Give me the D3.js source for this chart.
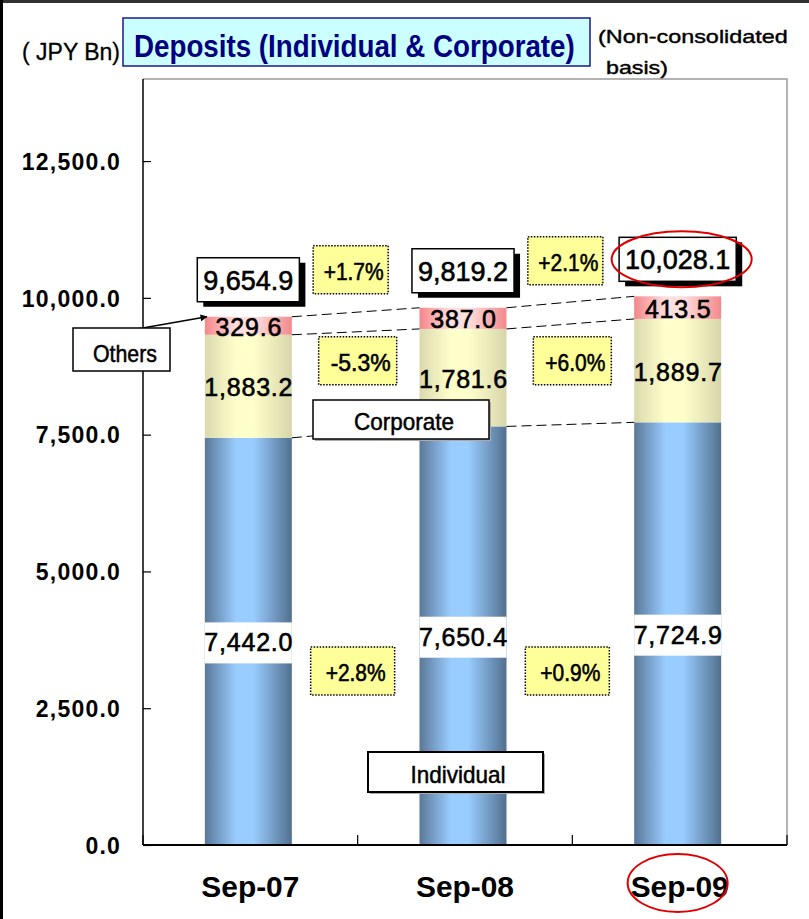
<!DOCTYPE html>
<html>
<head>
<meta charset="utf-8">
<script src="https://cdnjs.cloudflare.com/ajax/libs/d3/7.8.5/d3.min.js"></script>
<style>
  body { margin: 0; background: #fff; }
  svg { display: block; }
</style>
</head>
<body>
<div id="chart"></div>
<script>
// Data
const categories = ["Sep-07", "Sep-08", "Sep-09"];
const individual = [7442.0, 7650.4, 7724.9];
const corporate = [1883.2, 1781.6, 1889.7];
const others = [329.6, 387.0, 413.5];
const totals = [9654.9, 9819.2, 10028.1];
const totalGrowth = ["+1.7%", "+2.1%"];
const corporateGrowth = ["-5.3%", "+6.0%"];
const individualGrowth = ["+2.8%", "+0.9%"];
const yTicks = [0, 2500, 5000, 7500, 10000, 12500];

const W = 809, H = 919;
const plot = { left: 143, right: 787, top: 79, bottom: 845 };
const fmt = d3.format(",.1f");
const numFont = "'Liberation Sans', Arial, sans-serif";

const svg = d3.select("#chart").append("svg")
    .attr("width", W)
    .attr("height", H);

const defs = svg.append("defs");
function gradient(id, edgeL, mid, edgeR) {
    const g = defs.append("linearGradient").attr("id", id)
        .attr("x1", 0).attr("x2", 1).attr("y1", 0).attr("y2", 0);
    g.append("stop").attr("offset", 0).attr("stop-color", edgeL);
    g.append("stop").attr("offset", 0.36).attr("stop-color", mid);
    g.append("stop").attr("offset", 0.56).attr("stop-color", mid);
    g.append("stop").attr("offset", 1).attr("stop-color", edgeR);
}
gradient("gInd", "#5a7898", "#99ccff", "#52708f");
gradient("gCorp", "#d9d9ae", "#ffffcc", "#d6d6aa");
gradient("gOth", "#f4868a", "#ffdede", "#f28a8c");

// Squeeze a text horizontally to a given width (left anchored at x,y)
function fitText(sel, x0, y0, width) {
    const len = sel.node().getComputedTextLength();
    sel.attr("x", 0).attr("y", 0)
        .attr("transform", `translate(${x0},${y0}) scale(${width / len},1)`);
    return sel;
}

// Outer frame (left and top edges)
svg.append("rect").attr("x", 0).attr("y", 0).attr("width", W).attr("height", 3).attr("fill", "#333");
svg.append("rect").attr("x", 0).attr("y", 0).attr("width", 3).attr("height", H).attr("fill", "#000");

// Scales
const x = d3.scaleBand()
    .domain(categories)
    .range([plot.left, plot.right]);
const barW = 87;
const barX = d => x(d) + x.bandwidth() / 2 - 2 - barW / 2;

const y = d3.scaleLinear()
    .domain([0, 14000])
    .range([plot.bottom, plot.top]);

// Plot frame (top/right gray)
svg.append("path")
    .attr("d", `M${plot.left},${plot.top}H${plot.right}V${plot.bottom}`)
    .attr("fill", "none")
    .attr("stroke", "#999")
    .attr("stroke-width", 1.5);

// Stack
const stackData = categories.map((c, i) => ({
    cat: c, individual: individual[i], corporate: corporate[i], others: others[i]
}));
const keys = ["individual", "corporate", "others"];
const fills = { individual: "url(#gInd)", corporate: "url(#gCorp)", others: "url(#gOth)" };
const series = d3.stack().keys(keys)(stackData);

const bars = svg.append("g");
series.forEach(s => {
    bars.selectAll(null)
        .data(s)
        .enter()
        .append("rect")
        .attr("x", d => barX(d.data.cat))
        .attr("width", barW)
        .attr("y", d => y(d[1]))
        .attr("height", d => y(d[0]) - y(d[1]))
        .attr("fill", fills[s.key]);
});

// White gap behind individual labels
bars.selectAll(null)
    .data(series[0])
    .enter()
    .append("rect")
    .attr("x", d => barX(d.data.cat))
    .attr("width", barW)
    .attr("y", d => y((d[0] + d[1]) / 2) - 19)
    .attr("height", 41)
    .attr("fill", "#fff");

// Axes
const yAxis = d3.axisLeft(y).tickValues(yTicks).tickSize(-8).tickFormat(fmt).tickPadding(22);
const gy = svg.append("g")
    .attr("transform", `translate(${plot.left},0)`)
    .call(yAxis);
gy.select(".domain").attr("stroke", "#000").attr("stroke-width", 1.5)
    .attr("d", `M0,${plot.top}V${plot.bottom}`);
gy.selectAll(".tick line").attr("stroke", "#000").attr("stroke-width", 1.2);
gy.selectAll(".tick text")
    .attr("x", 121 - plot.left)
    .attr("dy", "0.36em")
    .style("font-family", numFont)
    .style("font-weight", "bold")
    .style("font-size", "23px")
    .style("letter-spacing", "1.2px")
    .attr("fill", "#000");

const xAxis = d3.axisBottom(x).tickSize(0).tickPadding(0).tickFormat("");
const gx = svg.append("g")
    .attr("transform", `translate(0,${plot.bottom})`)
    .call(xAxis);
gx.select(".domain").attr("stroke", "#000").attr("stroke-width", 2)
    .attr("d", `M${plot.left},0H${plot.right}`);
const bounds = [plot.left].concat(categories.map(c => x(c) + x.bandwidth()));
gx.selectAll(".bt")
    .data(bounds)
    .enter()
    .append("line")
    .attr("x1", d => d).attr("x2", d => d)
    .attr("y1", 0).attr("y2", -10)
    .attr("stroke", "#000").attr("stroke-width", 1.2);

svg.selectAll(".catLabel")
    .data(categories)
    .enter()
    .append("text")
    .attr("x", d => x(d) + x.bandwidth() / 2)
    .attr("y", 897)
    .attr("text-anchor", "middle")
    .style("font-family", numFont)
    .style("font-weight", "bold")
    .style("font-size", "30px")
    .attr("textLength", 98)
    .attr("lengthAdjust", "spacingAndGlyphs")
    .text(d => d);

// Dashed connector lines between bars
const conn = svg.append("g");
for (let i = 0; i < categories.length - 1; i++) {
    keys.forEach((k, j) => {
        const v0 = series[j][i][1], v1 = series[j][i + 1][1];
        conn.append("line")
            .attr("x1", barX(categories[i]) + barW)
            .attr("y1", y(v0))
            .attr("x2", barX(categories[i + 1]))
            .attr("y2", y(v1))
            .attr("stroke", "#000")
            .attr("stroke-width", 1)
            .attr("stroke-dasharray", "10,5");
    });
}

// Segment value labels
function valueText(g, tx, ty, txt, size, spacing) {
    return g.append("text")
        .attr("x", tx).attr("y", ty)
        .attr("text-anchor", "middle")
        .style("font-family", numFont)
        .style("font-size", size + "px")
        .style("letter-spacing", spacing + "px")
        .attr("fill", "#000")
        .attr("stroke", "#000")
        .attr("stroke-width", 0.6)
        .text(txt);
}
const labels = svg.append("g");
series.forEach(s => {
    s.forEach(d => {
        const cx = barX(d.data.cat) + barW / 2 + 0.5;
        const cy = y((d[0] + d[1]) / 2) + 10;
        valueText(labels, cx, cy, fmt(d.data[s.key]), 25, 0.8);
    });
});

// Total boxes with drop shadow
const totalBoxes = [];
totals.forEach((t, i) => {
    const cx = barX(categories[i]) + barW / 2;
    const bottom = y(t) - 15;
    const g = svg.append("g");
    const txt = valueText(g, cx, bottom - 12, fmt(t), 27, 0);
    const tw = txt.node().getComputedTextLength() + 12;
    g.insert("rect", "text")
        .attr("x", cx - tw / 2 + 6).attr("y", bottom - 44 + 5)
        .attr("width", tw).attr("height", 44)
        .attr("fill", "#000");
    g.insert("rect", "text")
        .attr("x", cx - tw / 2).attr("y", bottom - 44)
        .attr("width", tw).attr("height", 44)
        .attr("fill", "#fff").attr("stroke", "#000").attr("stroke-width", 1.5);
    totalBoxes.push({ cx: cx, cy: bottom - 22 });
});

// Growth boxes (yellow, dotted border)
function growthBox(cx, cy, w, txt) {
    const g = svg.append("g");
    g.append("rect")
        .attr("x", cx - w / 2).attr("y", cy - 24)
        .attr("width", w).attr("height", 48)
        .attr("fill", "#ffff99")
        .attr("stroke", "#000").attr("stroke-width", 1.5)
        .attr("stroke-dasharray", "1.5,1.5");
    g.append("text")
        .attr("x", cx + 3).attr("y", cy + 10)
        .attr("text-anchor", "middle")
        .style("font-family", numFont)
        .style("font-size", "24px")
        .attr("textLength", 60)
        .attr("lengthAdjust", "spacingAndGlyphs")
        .attr("stroke", "#000").attr("stroke-width", 0.6)
        .text(txt);
}
const gapX = i => (barX(categories[i]) + barW + barX(categories[i + 1])) / 2;
totalGrowth.forEach((t, i) => growthBox(gapX(i) - 5, y(totals[i]) - 47, 75, t));
corporateGrowth.forEach((t, i) => growthBox(gapX(i) + 2, y(8850), 78, t));
individualGrowth.forEach((t, i) => growthBox(gapX(i) - 3, y(3180), 84, t));

// Category name boxes
function nameBox(x0, y0, w, h, txt, tx, tl, shadow, sw) {
    const g = svg.append("g");
    if (shadow) {
        g.append("rect").attr("x", x0 + 2).attr("y", y0 + 2)
            .attr("width", w).attr("height", h).attr("fill", "#aaa");
    }
    g.append("rect").attr("x", x0).attr("y", y0)
        .attr("width", w).attr("height", h)
        .attr("fill", "#fff").attr("stroke", "#000").attr("stroke-width", sw);
    g.append("text")
        .attr("x", tx).attr("y", y0 + h - 9)
        .attr("text-anchor", "middle")
        .style("font-family", numFont)
        .style("font-size", "24px")
        .attr("textLength", tl)
        .attr("lengthAdjust", "spacingAndGlyphs")
        .attr("stroke", "#000").attr("stroke-width", 0.5)
        .text(txt);
}

// Arrow to "Others"
defs.append("marker").attr("id", "arrow")
    .attr("viewBox", "0 0 10 10").attr("refX", 9).attr("refY", 5)
    .attr("markerWidth", 9).attr("markerHeight", 7).attr("orient", "auto")
    .attr("markerUnits", "userSpaceOnUse")
    .append("path").attr("d", "M0,0L10,5L0,10z").attr("fill", "#000");
svg.append("line")
    .attr("x1", 137).attr("y1", 329)
    .attr("x2", barX(categories[0]) + 2).attr("y2", y(totals[0]))
    .attr("stroke", "#000").attr("stroke-width", 1.5)
    .attr("marker-end", "url(#arrow)");

nameBox(73, 328, 97, 43, "Others", 125, 64, false, 1.5);
nameBox(313, 400, 176, 39, "Corporate", 404, 100, true, 1.5);
nameBox(368, 752, 175, 40, "Individual", 458, 95, true, 2);

// Red highlight ellipses
const last = totalBoxes[totalBoxes.length - 1];
svg.append("ellipse")
    .attr("cx", last.cx + 4).attr("cy", last.cy)
    .attr("rx", 70).attr("ry", 28)
    .attr("fill", "none").attr("stroke", "#e00000").attr("stroke-width", 2);
svg.append("ellipse")
    .attr("cx", x(categories[2]) + x.bandwidth() / 2 - 2).attr("cy", 883)
    .attr("rx", 50).attr("ry", 29)
    .attr("fill", "none").attr("stroke", "#e00000").attr("stroke-width", 2);

// Title
svg.append("rect")
    .attr("x", 123).attr("y", 18).attr("width", 467).attr("height", 48)
    .attr("fill", "#ccffff").attr("stroke", "#1a1a8c").attr("stroke-width", 1.5);
const title = svg.append("text")
    .style("font-family", numFont)
    .style("font-weight", "bold")
    .style("font-size", "31px")
    .attr("fill", "#000080")
    .text("Deposits (Individual & Corporate)");
fitText(title, 134, 57, 441);

const unit = svg.append("text")
    .style("font-family", numFont)
    .style("font-size", "23px")
    .attr("stroke", "#000").attr("stroke-width", 0.3)
    .text("( JPY Bn)");
fitText(unit, 22, 60, 98);

const basis1 = svg.append("text")
    .style("font-family", numFont)
    .style("font-size", "19px")
    .attr("stroke", "#000").attr("stroke-width", 0.4)
    .text("(Non-consolidated");
fitText(basis1, 598, 43, 190);
const basis2 = svg.append("text")
    .style("font-family", numFont)
    .style("font-size", "19px")
    .attr("stroke", "#000").attr("stroke-width", 0.4)
    .text("basis)");
fitText(basis2, 606, 74, 62);
</script>
</body>
</html>
